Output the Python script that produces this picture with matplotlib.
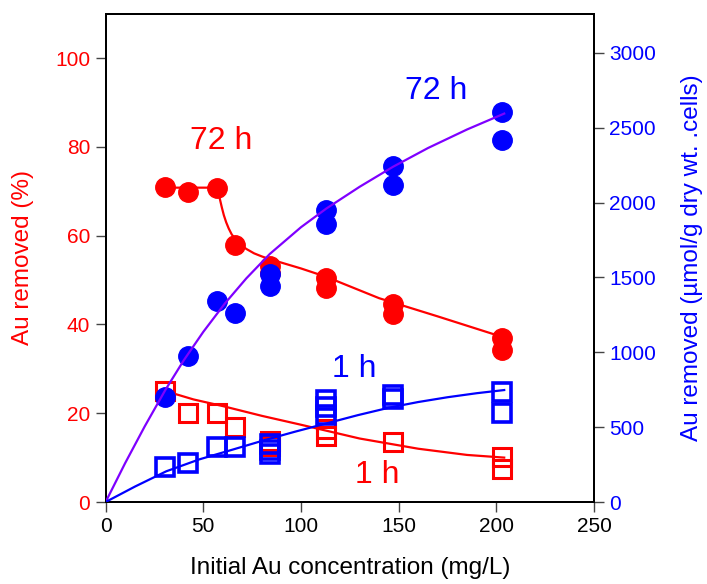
import matplotlib
matplotlib.use("Agg")
import matplotlib.pyplot as plt

plt.rcParams['font.family'] = ['Liberation Sans', 'DejaVu Sans']

# ---- data ----
# 72 h, % removed (left axis), filled red circles
pct72_x = [30.5, 42, 57, 66, 84, 84, 113, 113, 147, 147, 203, 203]
pct72_y = [71.0, 69.8, 70.8, 57.8, 53.2, 51.5, 50.5, 48.3, 44.5, 42.3, 36.9, 34.3]
# 72 h, umol/g (right axis), filled blue circles
q72_x = [30.5, 42, 57, 66, 84, 84, 113, 113, 147, 147, 203, 203]
q72_y = [701, 975, 1343, 1262, 1523, 1443, 1950, 1857, 2244, 2117, 2605, 2418]
# 1 h, % removed (left axis), open red squares
pct1_x = [30.5, 42, 57, 66, 84, 84, 113, 113, 147, 203, 203]
pct1_y = [25.0, 20.0, 20.0, 17.0, 13.8, 12.6, 16.5, 14.8, 13.6, 10.1, 7.4]
# 1 h, umol/g (right axis), open blue squares
q1_x = [30.5, 42, 57, 66, 84, 84, 84, 113, 113, 113, 147, 147, 203, 203]
q1_y = [234, 260, 367, 367, 385, 350, 320, 680, 635, 580, 715, 690, 735, 595]

# fitted curves, points
fit72_pct_x = [30.5, 57, 57.8, 58.6, 59.5, 60.5, 61.7, 63, 64.5, 66.5, 69, 72, 76, 80, 84,
               100, 113, 140, 170, 205]
fit72_pct_y = [70.8, 70.8, 69.5, 68.0, 66.3, 64.6, 63.0, 61.6, 60.3, 59.1, 58.0, 57.0, 56.0,
               55.3, 54.7, 52.6, 50.7, 45.9, 41.8, 36.9]
fit72_q_x = [0, 10, 20, 30.5, 40, 50, 61, 72, 84, 100, 113, 130, 147, 165, 185, 204]
fit72_q_y = [0, 260, 505, 747, 947, 1137, 1326, 1494, 1657, 1836, 1961, 2106, 2239, 2365,
             2489, 2595]
fit1_pct_x = [30.5, 45, 60, 80, 100, 130, 160, 185, 204]
fit1_pct_y = [25.0, 23.1, 21.6, 19.4, 17.4, 14.3, 12.0, 10.6, 10.0]
fit1_q_x = [0, 15, 31, 48, 65, 81, 97, 113, 129, 145, 160, 175, 190, 204]
fit1_q_y = [0, 103, 205, 285, 350, 412, 470, 525, 580, 630, 668, 700, 727, 748]

x_ticks = [0, 50, 100, 150, 200, 250]
left_ticks = [0, 20, 40, 60, 80, 100]
right_ticks = [0, 500, 1000, 1500, 2000, 2500, 3000]

RED = '#ff0000'
BLUE = '#0000ff'
PURPLE = '#7f00ff'

fig = plt.figure(figsize=(7.07, 5.84), dpi=100)
ax = fig.add_axes([0.1494, 0.1404, 0.6909, 0.8363])
ax2 = ax.twinx()

ax.set_xlim(0, 250)
ax.set_ylim(0, 110)
ax2.set_ylim(0, 3263)

# markers
ax.plot(pct1_x, pct1_y, 's', ms=13, mfc='none', mec=RED, mew=2.2, zorder=2)
ax.plot(pct72_x, pct72_y, 'o', ms=14, color=RED, zorder=3)
ax2.plot(q1_x, q1_y, 's', ms=13, mfc='none', mec=BLUE, mew=2.6, zorder=2)
ax2.plot(q72_x, q72_y, 'o', ms=14, color=BLUE, zorder=3)

# curves
ax.plot(fit72_pct_x, fit72_pct_y, '-', color=RED, lw=1.6, zorder=4)
ax.plot(fit1_pct_x, fit1_pct_y, '-', color=RED, lw=1.6, zorder=4)
ax2.plot(fit72_q_x, fit72_q_y, '-', color=PURPLE, lw=1.6, zorder=4)
ax2.plot(fit1_q_x, fit1_q_y, '-', color=BLUE, lw=1.6, zorder=4)

# annotations
ax.text(59, 81.3, '72 h', color=RED, fontsize=23, ha='center', va='center')
ax.text(169, 92.6, '72 h', color=BLUE, fontsize=23, ha='center', va='center')
ax.text(127.5, 30, '1 h', color=BLUE, fontsize=23, ha='center', va='center')
ax.text(139, 6.1, '1 h', color=RED, fontsize=23, ha='center', va='center')

# axes styling
ax.set_xticks(x_ticks)
ax.set_yticks(left_ticks)
ax2.set_yticks(right_ticks)
for a in (ax, ax2):
    for s in a.spines.values():
        s.set_linewidth(1.4)
ax.tick_params(axis='both', direction='out', length=7, width=1.0, color='#444444',
               labelsize=15, pad=4)
ax.tick_params(axis='y', labelcolor=RED)
ax.tick_params(axis='x', labelcolor='black')
ax2.tick_params(axis='y', direction='out', length=7, width=1.0, color='#444444',
                labelsize=15, labelcolor=BLUE, pad=4)

ax.set_xlabel('Initial Au concentration (mg/L)', fontsize=17.5, color='black', labelpad=15)
ax.set_ylabel('Au removed (%)', fontsize=17.5, color=RED, labelpad=15)
ax2.set_ylabel('Au removed (\u00b5mol/g dry wt. .cells)', fontsize=17.5, color=BLUE, labelpad=18)

fig.savefig('out.png', dpi=100)
